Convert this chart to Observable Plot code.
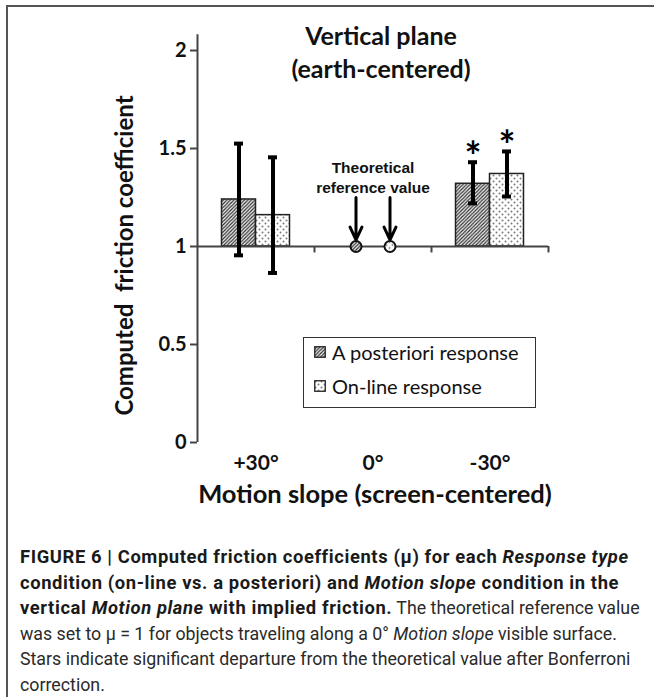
<!DOCTYPE html>
<html>
<head>
<meta charset="utf-8">
<script src="https://cdn.jsdelivr.net/npm/d3@7"></script>
<script src="https://cdn.jsdelivr.net/npm/@observablehq/plot@0.6"></script>
<style>
  body { margin: 0; background: #fff; }
  #wrap { position: relative; width: 654px; height: 697px; overflow: hidden; background: #fff; }
  #frame { position: absolute; left: 6px; top: 5px; width: 700px; height: 720px; border-left: 2px solid #555; border-top: 2px solid #555; }
  #chart { position: absolute; left: 0; top: 0; }
  #legend { position: absolute; left: 303px; top: 337px; width: 233px; height: 71px; border: 1.5px solid #333; background: #fff;
            font-family: Lato, "Open Sans", sans-serif; font-size: 20px; color: #111; box-sizing: border-box; }
  .lrow { position: absolute; left: 10px; display: flex; align-items: center; white-space: nowrap; }
  .lrow svg { margin-right: 6px; }
  #caption { position: absolute; left: 20px; top: 544px; font-family: Roboto, sans-serif; font-size: 17.8px;
             line-height: 25.6px; color: #2a2a2a; white-space: nowrap; }
  #caption b { font-weight: bold; font-size: 18.4px; letter-spacing: 0.6px; color: #1a1a1a; }
</style>
</head>
<body>
<div id="wrap">
  <div id="frame"></div>
  <div id="chart"></div>
  <div id="legend"></div>
  <div id="caption"></div>
</div>
<script>
// ---- data ----
const slopes = ["+30°", "0°", "-30°"];
const responseTypes = ["A posteriori response", "On-line response"];
const aPosterioriMean = [1.24, null, 1.32];
const aPosterioriLow  = [0.955, null, 1.22];
const aPosterioriHigh = [1.525, null, 1.43];
const onlineMean = [1.16, null, 1.37];
const onlineLow  = [0.865, null, 1.255];
const onlineHigh = [1.455, null, 1.485];
const significant = [false, false, true];
const theoreticalSlope = "0°";
const theoreticalValue = 1;
const yTicks = [0, 0.5, 1, 1.5, 2];
const yTickLabels = ["0", "0.5", "1", "1.5", "2"];
const titleText = "Vertical plane\n(earth-centered)";
const yLabel = "Computed  friction coefficient";
const xLabel = "Motion slope (screen-centered)";
const refLabel = "Theoretical\nreference value";

// ---- layout ----
const W = 654, H = 520;
const mL = 197, mR = 106, mT = 50, mB = 78;
const bw = (W - mL - mR) / slopes.length;
const barW = 34, off = 17, capHalf = 4.5;

const rows = [];
slopes.forEach((s, i) => {
  if (aPosterioriMean[i] != null) rows.push({slope: s, type: responseTypes[0], mean: aPosterioriMean[i], lo: aPosterioriLow[i], hi: aPosterioriHigh[i], star: significant[i]});
  if (onlineMean[i] != null) rows.push({slope: s, type: responseTypes[1], mean: onlineMean[i], lo: onlineLow[i], hi: onlineHigh[i], star: significant[i]});
});
const refPoints = responseTypes.map(t => ({slope: theoreticalSlope, type: t, value: theoreticalValue}));
const fills = {[responseTypes[0]]: "url(#hatchA)", [responseTypes[1]]: "url(#dotsB)"};
const sign = {[responseTypes[0]]: -1, [responseTypes[1]]: 1};

const marks = [];
// y axis line
marks.push(Plot.ruleX([slopes[0]], {x: d => d, y1: 0, y2: 2.08, dx: -bw / 2, stroke: "#444", strokeWidth: 2}));
marks.push(Plot.axisY({ticks: yTicks, tickFormat: d => yTickLabels[yTicks.indexOf(d)], tickSize: 7, tickPadding: 4,
  stroke: "#444", strokeWidth: 2, fill: "#111", fontSize: 20, fontWeight: "bold", fontFamily: "Lato", label: null}));
marks.push(Plot.axisX({tickSize: 0, tickPadding: 13, fontSize: 21, fontWeight: "bold", fontFamily: "Lato", fill: "#111", label: null}));

for (const t of responseTypes) {
  const d = rows.filter(r => r.type === t);
  const s = sign[t];
  marks.push(Plot.barY(d, {x: "slope", y1: theoreticalValue, y2: "mean", fill: fills[t], stroke: "#222", strokeWidth: 1.5,
    insetLeft: s < 0 ? bw / 2 - barW : bw / 2, insetRight: s < 0 ? bw / 2 : bw / 2 - barW}));
}
// baseline at theoretical value
marks.push(Plot.ruleY([theoreticalValue], {stroke: "#444", strokeWidth: 2}));
marks.push(Plot.ruleX(slopes, {x: d => d, y1: theoreticalValue, y2: theoreticalValue - 0.033, dx: bw / 2, stroke: "#444", strokeWidth: 2}));

for (const t of responseTypes) {
  const d = rows.filter(r => r.type === t);
  const s = sign[t];
  marks.push(Plot.ruleX(d, {x: "slope", y1: "lo", y2: "hi", dx: s * off, stroke: "#000", strokeWidth: 4}));
  const capOpts = {x: "slope", stroke: "#000", strokeWidth: 4,
    insetLeft: bw / 2 + s * off - capHalf, insetRight: bw / 2 - s * off - capHalf};
  marks.push(Plot.tickY(d, {...capOpts, y: "hi"}));
  marks.push(Plot.tickY(d, {...capOpts, y: "lo"}));
  marks.push(Plot.text(d.filter(r => r.star), {x: "slope", y: "hi", text: () => "*", dx: s * off, dy: -4,
    fontSize: 40, fontWeight: "bold", fontFamily: "Lato", fill: "#000"}));
  const rp = refPoints.filter(r => r.type === t);
  marks.push(Plot.arrow(rp, {x1: "slope", x2: "slope", y1: 1.25, y2: 1.034, dx: s * off, stroke: "#000", strokeWidth: 3,
    headLength: 11, headAngle: 50}));
  marks.push(Plot.dot(rp, {x: "slope", y: "value", dx: s * off, r: 5.5, fill: fills[t], stroke: "#111", strokeWidth: 2}));
}

marks.push(Plot.text([refLabel], {x: () => theoreticalSlope, y: 1.355, text: d => d, lineHeight: 1.25, fontSize: 15.5,
  fontWeight: "bold", fontFamily: "Liberation Sans", fill: "#111"}));
marks.push(Plot.text([titleText], {frameAnchor: "top", text: d => d, lineAnchor: "top", dx: 8, dy: -29, lineHeight: 1.32,
  fontSize: 25, fontWeight: "bold", fontFamily: "Lato", fill: "#111"}));
marks.push(Plot.text([yLabel], {frameAnchor: "left", textAnchor: "middle", text: d => d, rotate: -90, dx: -72, dy: 9,
  fontSize: 24, fontWeight: "bold", fontFamily: "Lato", fill: "#111"}));
marks.push(Plot.text([xLabel], {frameAnchor: "bottom", text: d => d, lineAnchor: "top", dx: 2, dy: 42,
  fontSize: 25.5, fontWeight: "bold", fontFamily: "Lato", fill: "#111"}));

const chart = Plot.plot({
  width: W, height: H,
  marginLeft: mL, marginRight: mR, marginTop: mT, marginBottom: mB,
  style: {background: "transparent", overflow: "visible"},
  x: {type: "band", domain: slopes, padding: 0},
  y: {domain: [0, 2]},
  marks
});

const defs = `
<pattern id="hatchA" patternUnits="userSpaceOnUse" width="3.5" height="3.5">
  <rect width="3.5" height="3.5" fill="#fff"/>
  <path d="M-1,1 l2,-2 M0,3.5 l3.5,-3.5 M2.5,4.5 l2,-2" stroke="#333" stroke-width="1.35"/>
</pattern>
<pattern id="dotsB" patternUnits="userSpaceOnUse" width="6" height="6">
  <rect width="6" height="6" fill="#fff"/>
  <circle cx="1.5" cy="1.5" r="1" fill="#7a7a7a"/>
  <circle cx="4.5" cy="4.5" r="1" fill="#7a7a7a"/>
</pattern>`;
const d3defs = d3.select(chart).insert("defs", ":first-child");
d3defs.html(defs);
document.getElementById("chart").appendChild(chart);

// legend
const legend = document.getElementById("legend");
const swatch = (t) => `<svg width="12" height="12"><rect x="0.75" y="0.75" width="10.5" height="10.5" fill="${fills[t]}" stroke="#222" stroke-width="1.3"/></svg>`;
responseTypes.forEach((t, i) => {
  const row = document.createElement("div");
  row.className = "lrow";
  row.style.top = (i === 0 ? 2 : 36) + "px";
  row.innerHTML = swatch(t) + `<span>${t}</span>`;
  legend.appendChild(row);
});

// caption
const captionLines = [
  "<b>FIGURE 6 | Computed friction coefficients (μ) for each <i>Response type</i></b>",
  "<b>condition (on-line vs. a posteriori) and <i>Motion slope</i> condition in the</b>",
  "<b>vertical <i>Motion plane</i> with implied friction.</b> The theoretical reference value",
  "was set to μ = 1 for objects traveling along a 0° <i>Motion slope</i> visible surface.",
  "Stars indicate significant departure from the theoretical value after Bonferroni",
  "correction."
];
document.getElementById("caption").innerHTML = captionLines.join("<br>");
</script>
</body>
</html>
